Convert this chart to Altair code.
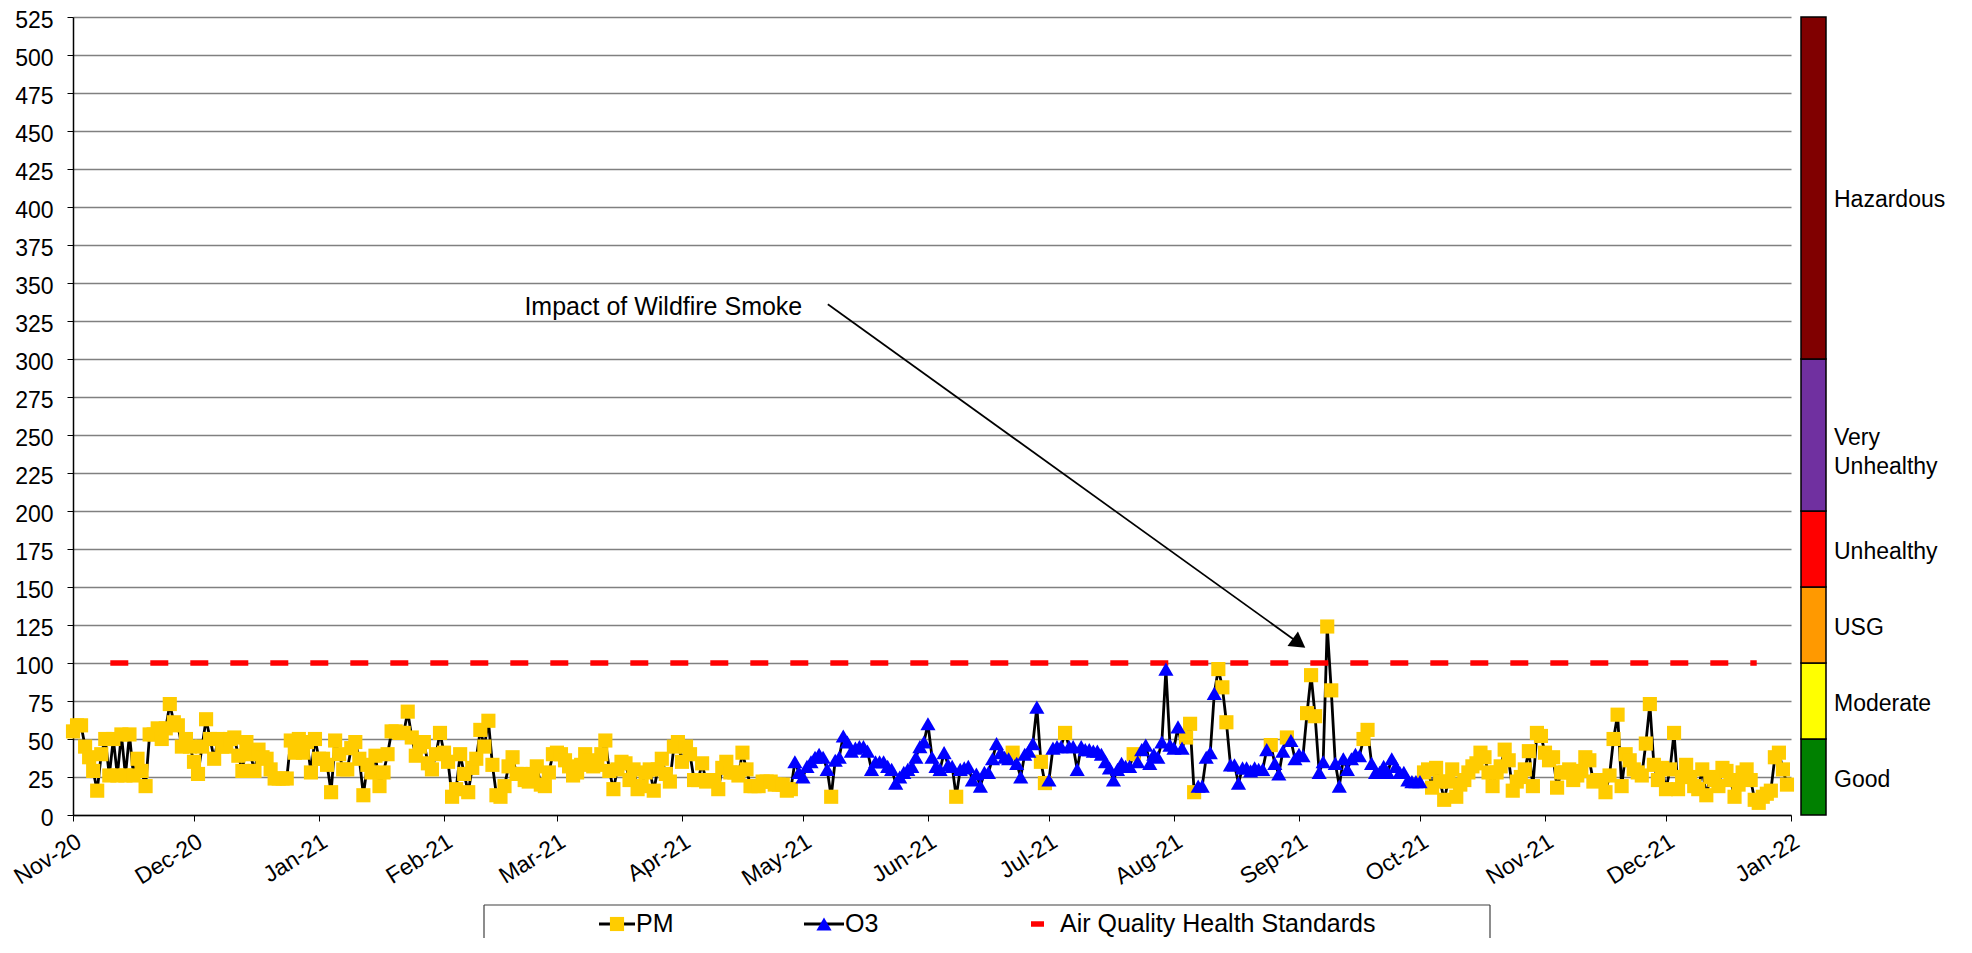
import altair as alt
import pandas as pd

# ---- daily AQI values, one list per month (Nov 2020 - Dec 2021) ----
aqi_2020_11 = [55,59,59,45,38,29,16,40,50,26, 50,26,53,26,53,26,37,29,19,53, 53,57,50,57,73,61,59,45,50,45]
aqi_2020_12 = [35,27,45,63,50,37,50,45,45,50, 51,39,29,48,40,29,43,38,37,30, 24,24,24,24,49,41,50,41,48,28, 50]
aqi_2021_01 = [37,37,33,15,49,40,30,30,44,48, 37,13,33,28,39,19,28,40,55,55, 54,54,68,51,39,45,48,34,30,40, 54]
aqi_2021_02 = [41,35,12,17,40,27,15,31,37,56, 45,62,33,13,12,19,32,38,27,27, 23,22,27,32,20,19,28,40]
aqi_2021_03 = [41,40,36,32,26,28,33,40,36,32, 33,40,49,29,17,30,35,34,23,30, 17,19,28,30,16,30,37,27,22,45, 48]
aqi_2021_04 = [35,45,40,23,23,34,22,23,23,17, 31,35,28,28,26,41,30,19,19,19, 22,22,22,20,20,20,16,17,35,28]
aqi_2021_05 = [25,32,35,38,40,38,30,12,36,38, 52,48,42,44,45,45,42,30,35,35, 35,32,30,21,25,28,30,32,38,45, 48]
aqi_2021_06 = [60,38,32,30,41,33,32,12,30,31, 32,23,27,19,28,28,37,47,41,38, 37,41,34,25,40,42,47,71,35,21]
aqi_2021_07 = [23,44,45,45,54,45,45,30,45,43, 43,42,42,40,35,31,23,30,34,32, 32,40,35,43,46,34,40,38,48,96, 46]
aqi_2021_08 = [44,58,44,51,60,15,19,19,38,41, 80,96,84,61,33,33,21,31,31,29, 31,30,30,43,46,34,27,42,51,49, 37]
aqi_2021_09 = [40,39,67,92,65,28,35,124,82,34, 19,37,30,37,40,39,50,56,34,28, 28,32,28,37,32,28,28,23,22,22]
aqi_2021_10 = [22,28,30,18,31,22,10,22,30,12, 20,23,28,32,34,41,38,28,19,28, 32,43,36,16,22,25,30,42,19,54, 52]
aqi_2021_11 = [41,36,38,18,28,28,30,23,26,29, 38,36,22,23,23,15,26,50,66,19, 40,36,30,28,26,47,73,33,23,31]
aqi_2021_12 = [17,30,54,17,25,33,25,19,17,30, 13,25,23,19,31,29,23,12,20,28, 30,23,10,8,12,14,16,38,41,30, 20]

first_day = "2020-11-01"
# ozone season: O3 is the reported pollutant, except on the listed PM days
o3_first_day = "2021-04-29"
o3_last_day = "2021-10-01"
pm_days_in_o3_season = ["2021-05-08", "2021-06-08", "2021-06-22", "2021-06-29", "2021-06-30",
                        "2021-07-05", "2021-07-22", "2021-08-04", "2021-08-05", "2021-08-06",
                        "2021-08-12", "2021-08-13", "2021-08-14", "2021-08-25", "2021-08-29",
                        "2021-09-03", "2021-09-04", "2021-09-05", "2021-09-08", "2021-09-09",
                        "2021-09-17", "2021-09-18"]

# air quality health standard line
standard_dates = ["2020-11-10T06:00:00", "2021-12-23T12:00:00"]
standard_values = [100, 100]

# AQI category bands
band_names = ["Good", "Moderate", "USG", "Unhealthy", "Very\nUnhealthy", "Hazardous"]
band_low = [0, 50, 100, 150, 200, 300]
band_high = [50, 100, 150, 200, 300, 525]
band_colors = ["#008000", "#FFFF00", "#FF9900", "#FF0000", "#7030A0", "#800000"]

# annotation
annot_text = "Impact of Wildfire Smoke"
annot_date = "2021-04-30T20:00:00"
annot_value = 334
arrow_dates = ["2021-05-07T04:00:00", "2021-09-01T00:00:00"]
arrow_values = [336, 113]

y_ticks = list(range(0, 526, 25))

# ---- build tables ----
values = (aqi_2020_11 + aqi_2020_12 + aqi_2021_01 + aqi_2021_02 + aqi_2021_03 + aqi_2021_04 +
          aqi_2021_05 + aqi_2021_06 + aqi_2021_07 + aqi_2021_08 + aqi_2021_09 + aqi_2021_10 +
          aqi_2021_11 + aqi_2021_12)
dates = pd.date_range(first_day, periods=len(values), freq="D")
pm_set = set(pd.to_datetime(pm_days_in_o3_season))
o3a, o3b = pd.Timestamp(o3_first_day), pd.Timestamp(o3_last_day)
ptype = ["O3" if (o3a <= d <= o3b and d not in pm_set) else "PM" for d in dates]
df = pd.DataFrame({"date": dates.strftime("%Y-%m-%dT%H:%M:%S"), "aqi": values, "pollutant": ptype})

std_df = pd.DataFrame({"date": standard_dates, "aqi": standard_values})
band_df = pd.DataFrame({"name": band_names, "low": band_low, "high": band_high, "color": band_colors})
band_df["mid"] = (band_df["low"] + band_df["high"]) / 2
arrow_df = pd.DataFrame({"date": arrow_dates, "aqi": arrow_values})
annot_df = pd.DataFrame({"date": [annot_date], "aqi": [annot_value], "label": [annot_text]})
one = pd.DataFrame({"k": [0]})

FONT = "Liberation Sans"
W, H = 1718, 798

month_vals = [alt.DateTime(year=2020 + (10 + i) // 12, month=(10 + i) % 12 + 1, date=1) for i in range(15)]
xscale = alt.Scale(domain=[alt.DateTime(year=2020, month=11, date=1), alt.DateTime(year=2022, month=1, date=1)])
yscale = alt.Scale(domain=[0, 525], nice=False, zero=True)

xaxis = alt.Axis(values=month_vals, format="%b-%y", labelAngle=-32, labelAlign="right",
                 labelBaseline="top", labelFontSize=23, labelPadding=9, tickSize=6,
                 grid=False, domainColor="black", tickColor="black", labelColor="black",
                 labelFont=FONT, domainWidth=1.5, labelOverlap=False, title=None)
yaxis = alt.Axis(values=y_ticks, labelFontSize=23, labelPadding=14, tickSize=6, labelOffset=3,
                 grid=True, gridColor="#808080", gridWidth=1.5, domainColor="black",
                 tickColor="black", labelColor="black", labelFont=FONT, domainWidth=1.5,
                 labelOverlap=False, labelFlush=False, title=None)


def xe(field="date"):
    return alt.X(f"{field}:T", scale=xscale, axis=xaxis, title=None)


def ye(field="aqi"):
    return alt.Y(f"{field}:Q", scale=yscale, axis=yaxis, title=None)


base = alt.Chart(df)
line = base.mark_line(color="black", strokeWidth=2.8).encode(x=xe(), y=ye())
pm_pts = base.transform_filter(alt.datum.pollutant == "PM").mark_point(
    shape="square", filled=True, size=200, color="#FFCC00", opacity=1).encode(x=xe(), y=ye())
o3_pts = base.transform_filter(alt.datum.pollutant == "O3").mark_point(
    shape="triangle-up", filled=True, size=230, color="#0000FF", opacity=1).encode(x=xe(), y=ye())

std_line = alt.Chart(std_df).mark_line(color="#FF0000", strokeWidth=5.5, strokeDash=[18, 22],
                                       strokeCap="butt").encode(x=xe(), y=ye())

arrow_line = alt.Chart(arrow_df).mark_line(color="black", strokeWidth=1.7).encode(x=xe(), y=ye())
arrow_head = alt.Chart(arrow_df.tail(1)).mark_point(
    shape="triangle-right", filled=True, size=320, color="black", opacity=1, angle=35.8).encode(
    x=xe(), y=ye())
annot = alt.Chart(annot_df).mark_text(align="right", baseline="middle", font=FONT,
                                      fontSize=25, color="black").encode(
    x=xe(), y=ye(), text="label:N")

# AQI category colour bar on the right, on the same y scale
bands = alt.Chart(band_df).mark_rect(stroke="black", strokeWidth=1.5).encode(
    x=alt.value(W + 10), x2=alt.value(W + 35),
    y=ye("low"), y2="high:Q",
    color=alt.Color("color:N", scale=None))
band_labels = alt.Chart(band_df).transform_filter(alt.datum.name != "Hazardous").mark_text(
    align="left", baseline="middle", font=FONT, fontSize=23, color="black", lineBreak="\n",
    lineHeight=29, dy=3).encode(x=alt.value(W + 43), y=ye("mid"), text="name:N")
band_label_top = alt.Chart(band_df).transform_filter(alt.datum.name == "Hazardous").mark_text(
    align="left", baseline="middle", font=FONT, fontSize=23, color="black", dy=12).encode(
    x=alt.value(W + 43), y=ye("mid"), text="name:N")

# legend box at the bottom
LY = 907
BT = 888
leg_box = [
    alt.Chart(one).mark_rule(color="#404040", strokeWidth=1.2).encode(
        x=alt.value(411), x2=alt.value(1417), y=alt.value(BT)),
    alt.Chart(one).mark_rule(color="#404040", strokeWidth=1.2).encode(
        x=alt.value(411), y=alt.value(BT), y2=alt.value(1000)),
    alt.Chart(one).mark_rule(color="#404040", strokeWidth=1.2).encode(
        x=alt.value(1417), y=alt.value(BT), y2=alt.value(1000)),
]
leg_items = [
    alt.Chart(one).mark_rule(color="black", strokeWidth=2.8).encode(
        x=alt.value(526), x2=alt.value(562), y=alt.value(LY)),
    alt.Chart(one).mark_point(shape="square", filled=True, size=200, color="#FFCC00", opacity=1).encode(
        x=alt.value(544), y=alt.value(LY)),
    alt.Chart(one).mark_text(align="left", baseline="middle", font=FONT, fontSize=25, color="black",
                             text="PM").encode(x=alt.value(563), y=alt.value(LY)),
    alt.Chart(one).mark_rule(color="black", strokeWidth=2.8).encode(
        x=alt.value(731), x2=alt.value(771), y=alt.value(LY)),
    alt.Chart(one).mark_point(shape="triangle-up", filled=True, size=230, color="#0000FF", opacity=1).encode(
        x=alt.value(751), y=alt.value(LY)),
    alt.Chart(one).mark_text(align="left", baseline="middle", font=FONT, fontSize=25, color="black",
                             text="O3").encode(x=alt.value(772), y=alt.value(LY)),
    alt.Chart(one).mark_rule(color="#FF0000", strokeWidth=5.5).encode(
        x=alt.value(958), x2=alt.value(971), y=alt.value(LY)),
    alt.Chart(one).mark_text(align="left", baseline="middle", font=FONT, fontSize=25, color="black",
                             text="Air Quality Health Standards").encode(x=alt.value(987), y=alt.value(LY)),
]

chart = alt.layer(line, std_line, pm_pts, o3_pts, arrow_line, arrow_head, annot,
                  bands, band_labels, band_label_top, *leg_box, *leg_items).properties(
    width=W, height=H,
    autosize=alt.AutoSizeParams(type="none"),
    padding={"left": 65, "top": 9, "right": 173, "bottom": 123},
    background="white",
).configure_view(stroke=None)

chart.save("out.html", embed_options={"renderer": "svg", "actions": False})
